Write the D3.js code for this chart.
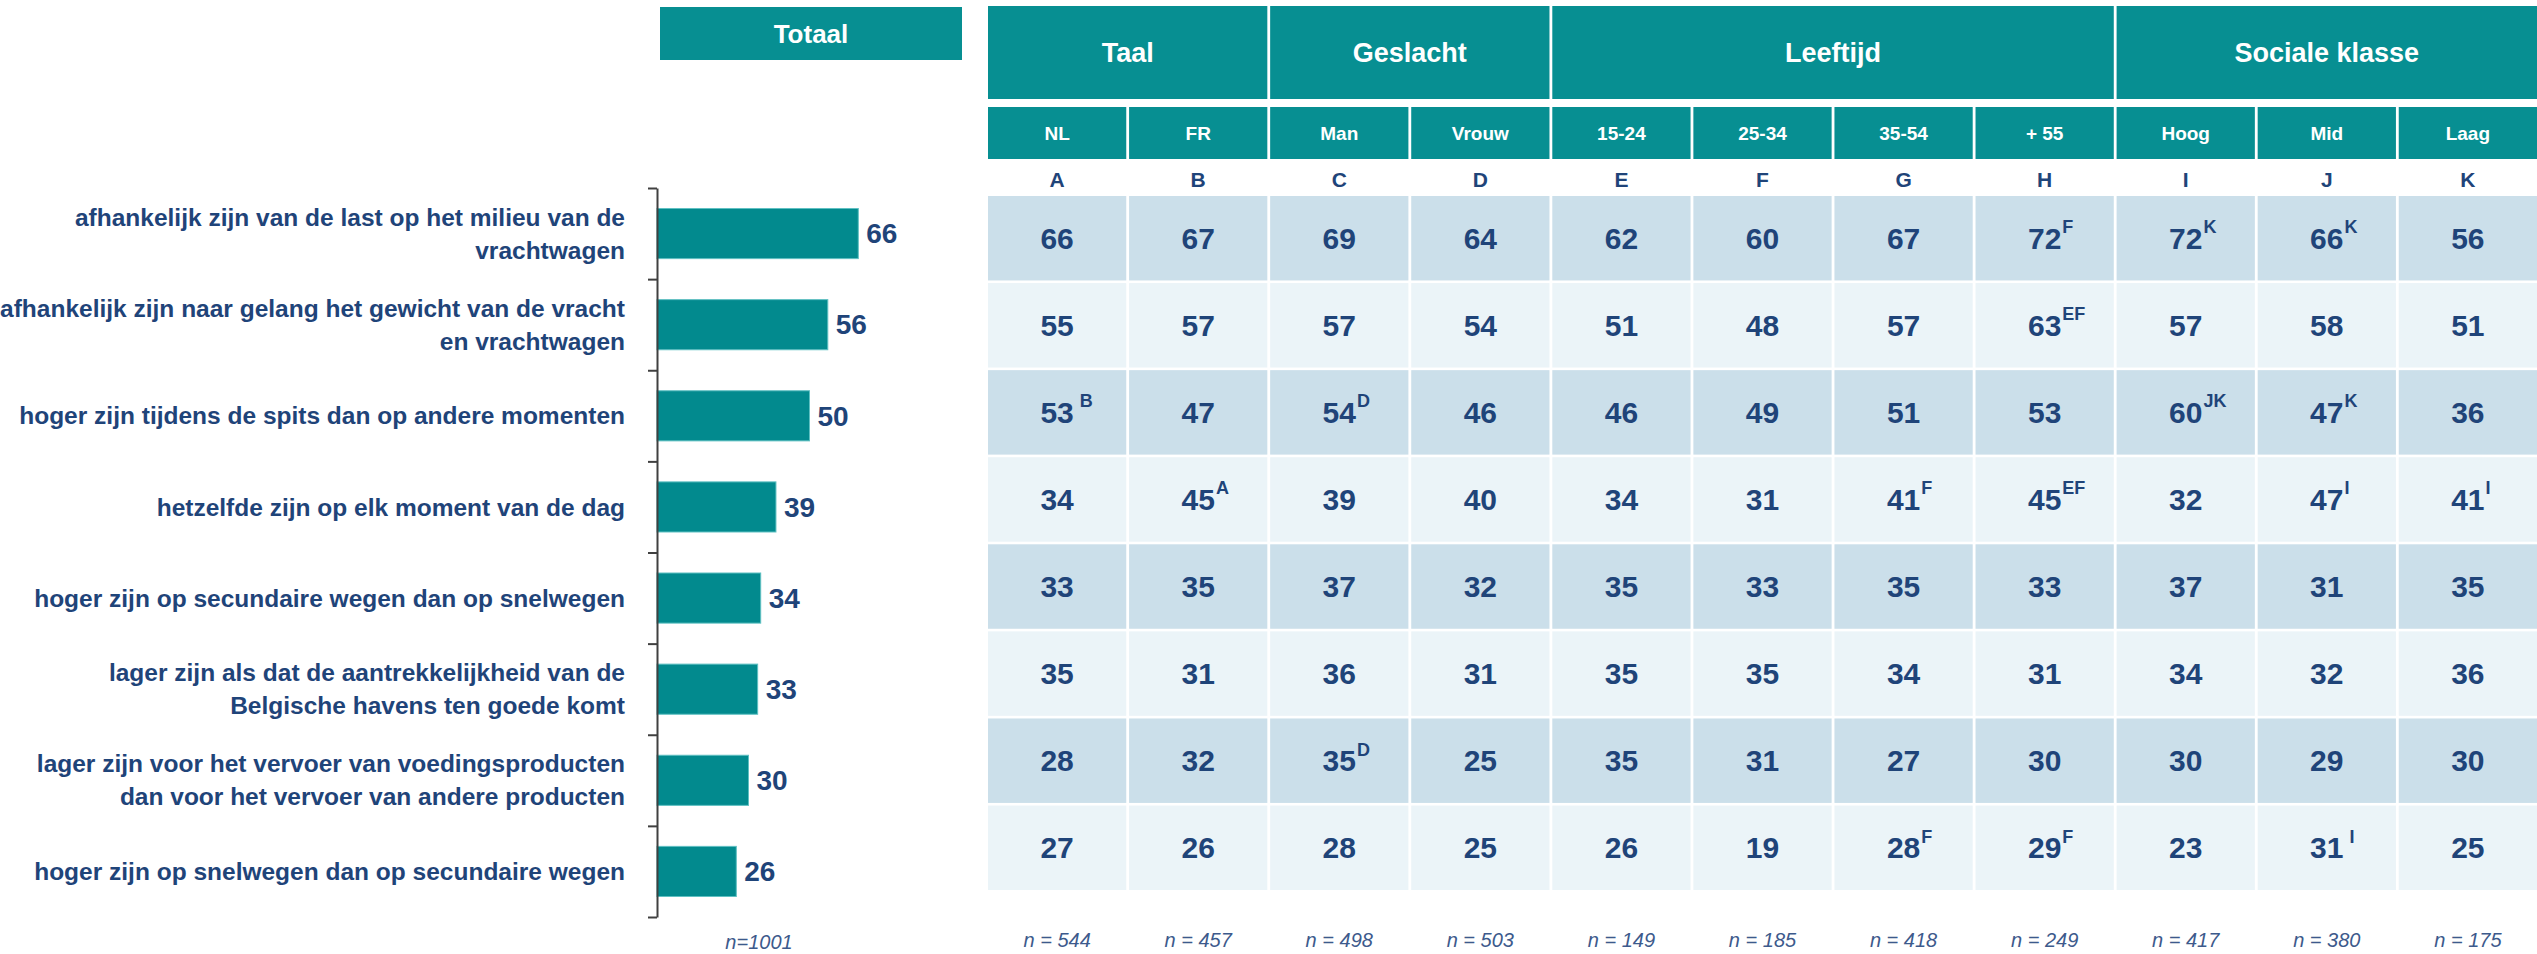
<!DOCTYPE html>
<html>
<head>
<meta charset="utf-8">
<script src="https://cdn.jsdelivr.net/npm/d3@7"></script>
<style>
  html, body { margin: 0; padding: 0; background: #ffffff; }
  svg { display: block; }
</style>
</head>
<body>
<svg id="chart" width="2537" height="954"></svg>
<script>
// ---------------- DATA ----------------
const items = [
  "afhankelijk zijn van de last op het milieu van de\nvrachtwagen",
  "afhankelijk zijn naar gelang het gewicht van de vracht\nen vrachtwagen",
  "hoger zijn tijdens de spits dan op andere momenten",
  "hetzelfde zijn op elk moment van de dag",
  "hoger zijn op secundaire wegen dan op snelwegen",
  "lager zijn als dat de aantrekkelijkheid van de\nBelgische havens ten goede komt",
  "lager zijn voor het vervoer van voedingsproducten\ndan voor het vervoer van andere producten",
  "hoger zijn op snelwegen dan op secundaire wegen"
];
const totals = [66, 56, 50, 39, 34, 33, 30, 26];
const totalTitle = "Totaal";
const totalN = "n=1001";

const groups = [
  { name: "Taal", cols: ["A", "B"] },
  { name: "Geslacht", cols: ["C", "D"] },
  { name: "Leeftijd", cols: ["E", "F", "G", "H"] },
  { name: "Sociale klasse", cols: ["I", "J", "K"] }
];
const colLetters = ["A", "B", "C", "D", "E", "F", "G", "H", "I", "J", "K"];
const colNames = ["NL", "FR", "Man", "Vrouw", "15-24", "25-34", "35-54", "+ 55", "Hoog", "Mid", "Laag"];
const colN = [544, 457, 498, 503, 149, 185, 418, 249, 417, 380, 175];

const values = [
  [66, 67, 69, 64, 62, 60, 67, 72, 72, 66, 56],
  [55, 57, 57, 54, 51, 48, 57, 63, 57, 58, 51],
  [53, 47, 54, 46, 46, 49, 51, 53, 60, 47, 36],
  [34, 45, 39, 40, 34, 31, 41, 45, 32, 47, 41],
  [33, 35, 37, 32, 35, 33, 35, 33, 37, 31, 35],
  [35, 31, 36, 31, 35, 35, 34, 31, 34, 32, 36],
  [28, 32, 35, 25, 35, 31, 27, 30, 30, 29, 30],
  [27, 26, 28, 25, 26, 19, 28, 29, 23, 31, 25]
];
const sig = [
  ["", "", "", "", "", "", "", "F", "K", "K", ""],
  ["", "", "", "", "", "", "", "EF", "", "", ""],
  [" B", "", "D", "", "", "", "", "", "JK", "K", ""],
  ["", "A", "", "", "", "", "F", "EF", "", "I", "I"],
  ["", "", "", "", "", "", "", "", "", "", ""],
  ["", "", "", "", "", "", "", "", "", "", ""],
  ["", "", "D", "", "", "", "", "", "", "", ""],
  ["", "", "", "", "", "", "F", "F", "", " I", ""]
];

// ---------------- STYLE ----------------
const TEAL = "#078f92";
const BAR = "#028a8e";
const DARK_ROW = "#cbdfea";
const LIGHT_ROW = "#ebf4f8";
const TEXT = "#1f4479";
const NCOL = "#3d5a8c";
const FONT = "'Liberation Sans', Arial, sans-serif";

const svg = d3.select("#chart").style("font-family", FONT);

// ---------------- BAR CHART ----------------
const idx = d3.range(items.length);
const y = d3.scaleBand().domain(idx).range([188, 917]).paddingInner(0.45).paddingOuter(0.225);
const yTicks = d3.scaleLinear().domain([0, items.length]).range([188, 917]);
const x = d3.scaleLinear().domain([0, 100]).range([657, 962]);

// Totaal header
svg.append("rect").attr("x", 660).attr("y", 7).attr("width", 302).attr("height", 53).attr("fill", TEAL);
svg.append("text").attr("x", 811).attr("y", 34).attr("dy", "0.35em")
  .attr("text-anchor", "middle").attr("fill", "#fff").attr("font-weight", "bold")
  .attr("font-size", 26).text(totalTitle);

svg.append("g").selectAll("rect").data(idx).join("rect")
  .attr("x", x(0)).attr("y", d => y(d))
  .attr("width", d => x(totals[d]) - x(0)).attr("height", y.bandwidth())
  .attr("fill", BAR).attr("stroke", "#5fc0c2").attr("stroke-width", 1);

const axis = svg.append("g").attr("transform", `translate(${x(0)},0)`)
  .call(d3.axisLeft(yTicks).tickValues(d3.range(items.length + 1)).tickFormat("").tickSize(9).tickSizeOuter(0));
axis.selectAll("path, line").attr("stroke", "#404040").attr("stroke-width", 2);

svg.append("g").selectAll("text").data(idx).join("text")
  .attr("x", d => x(totals[d]) + 8).attr("y", d => y(d) + y.bandwidth() / 2).attr("dy", "0.35em")
  .attr("fill", TEXT).attr("font-weight", "bold").attr("font-size", 28)
  .text(d => totals[d]);

const lab = svg.append("g").selectAll("text").data(idx).join("text")
  .attr("text-anchor", "end").attr("fill", TEXT).attr("font-weight", "bold").attr("font-size", 24.5);
lab.each(function (d) {
  const lines = items[d].split("\n");
  const cy = y(d) + y.bandwidth() / 2;
  const lh = 33;
  lines.forEach((ln, i) => {
    d3.select(this).append("tspan").attr("x", 625)
      .attr("y", cy + (i - (lines.length - 1) / 2) * lh).attr("dy", "0.35em").text(ln);
  });
});

svg.append("text").attr("x", 759).attr("y", 942).attr("dy", "0.35em").attr("text-anchor", "middle")
  .attr("fill", NCOL).attr("font-style", "italic").attr("font-size", 20).text(totalN);

// ---------------- TABLE ----------------
const cx = d3.scaleBand().domain(colLetters).range([988, 2537]).paddingInner(0.02);
const ry = d3.scaleBand().domain(idx).range([196, 890]).paddingInner(0.03);

// group header
const gh = svg.append("g");
groups.forEach(g => {
  const x0 = cx(g.cols[0]);
  const x1 = cx(g.cols[g.cols.length - 1]) + cx.bandwidth();
  gh.append("rect").attr("x", x0).attr("y", 6).attr("width", x1 - x0).attr("height", 93).attr("fill", TEAL);
  gh.append("text").attr("x", (x0 + x1) / 2).attr("y", 53).attr("dy", "0.35em")
    .attr("text-anchor", "middle").attr("fill", "#fff").attr("font-weight", "bold").attr("font-size", 27).text(g.name);
});

// sub header
const sh = svg.append("g").selectAll("g").data(colLetters).join("g")
  .attr("transform", d => `translate(${cx(d)},0)`);
sh.append("rect").attr("y", 107).attr("width", cx.bandwidth()).attr("height", 52).attr("fill", TEAL);
sh.append("text").attr("x", cx.bandwidth() / 2).attr("y", 133).attr("dy", "0.35em")
  .attr("text-anchor", "middle").attr("fill", "#fff").attr("font-weight", "bold").attr("font-size", 19)
  .text((d, i) => colNames[i]);
sh.append("text").attr("x", cx.bandwidth() / 2).attr("y", 180).attr("dy", "0.35em")
  .attr("text-anchor", "middle").attr("fill", TEXT).attr("font-weight", "bold").attr("font-size", 21)
  .text(d => d);
sh.append("text").attr("x", cx.bandwidth() / 2).attr("y", 940).attr("dy", "0.35em")
  .attr("text-anchor", "middle").attr("fill", NCOL).attr("font-style", "italic").attr("font-size", 20)
  .text((d, i) => "n = " + colN[i]);

// cells
const cells = [];
values.forEach((row, r) => row.forEach((v, c) => cells.push({ r, c, v, s: sig[r][c] })));
const cg = svg.append("g").selectAll("g").data(cells).join("g")
  .attr("transform", d => `translate(${cx(colLetters[d.c])},${ry(d.r)})`);
cg.append("rect").attr("width", cx.bandwidth()).attr("height", ry.bandwidth())
  .attr("fill", d => d.r % 2 === 0 ? DARK_ROW : LIGHT_ROW);
cg.append("text").attr("x", cx.bandwidth() / 2).attr("y", ry.bandwidth() / 2).attr("dy", "0.35em")
  .attr("text-anchor", "middle").attr("fill", TEXT).attr("font-weight", "bold").attr("font-size", 30)
  .text(d => d.v);
cg.filter(d => d.s).append("text")
  .attr("x", function (d) {
    const w = this.parentNode.querySelector("text").getComputedTextLength();
    return cx.bandwidth() / 2 + w / 2 + 1;
  })
  .attr("y", ry.bandwidth() / 2 - 5)
  .attr("fill", TEXT).attr("font-weight", "bold").attr("font-size", 18)
  .attr("xml:space", "preserve").style("white-space", "pre")
  .text(d => d.s);
</script>
</body>
</html>
